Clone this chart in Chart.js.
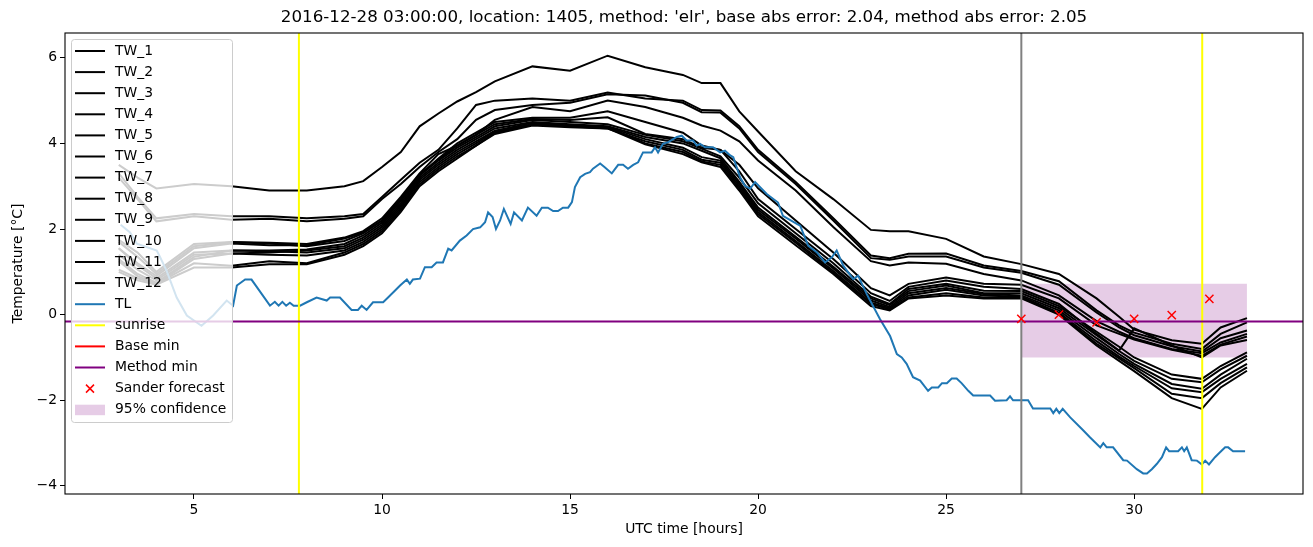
<!DOCTYPE html>
<html>
<head>
<meta charset="utf-8">
<script src="https://cdn.jsdelivr.net/npm/chart.js@4.4.0/dist/chart.umd.min.js"></script>
<style>
  html, body { margin: 0; padding: 0; background: #fff; }
  canvas { display: block; }
</style>
</head>
<body>
<canvas id="chart" width="1313" height="547"></canvas>
<script>
// ---------- Data ----------
const twHours = [3, 3.5, 4, 5, 6, 7, 8, 9, 9.5, 10, 10.5, 11, 11.5, 12, 12.5, 13, 14, 15, 16, 17, 18, 18.5, 19, 19.5, 20,
  21, 22, 23, 23.5, 24, 25, 26, 27, 28, 29, 29.6, 30, 31, 31.8, 32.3, 33];

const tw1 = [3.50, 3.20, 2.95, 3.05, 3.00, 2.90, 2.90, 3.00, 3.12, 3.45, 3.80, 4.40, 4.70, 4.98, 5.20, 5.45, 5.80, 5.70, 6.05, 5.78, 5.60, 5.41, 5.41, 4.75, 4.28,
  3.35, 2.70, 1.98, 1.95, 1.95, 1.77, 1.36, 1.18, 0.95, 0.38, -0.05, -0.35, -0.60, -0.68, -0.30, -0.08];
const tw2 = [3.30, 2.75, 2.25, 2.35, 2.30, 2.30, 2.25, 2.30, 2.35, 2.75, 3.15, 3.55, 3.85, 4.35, 4.90, 5.00, 5.05, 5.00, 5.19, 5.05, 5.00, 4.78, 4.77, 4.40, 3.85,
  3.10, 2.25, 1.38, 1.32, 1.42, 1.43, 1.15, 1.02, 0.78, 0.10, -0.25, -0.42, -0.68, -0.80, -0.45, -0.18];
const tw3 = [3.20, 2.70, 2.18, 2.30, 2.22, 2.24, 2.18, 2.24, 2.30, 2.70, 3.05, 3.45, 3.80, 4.10, 4.55, 4.78, 4.90, 4.95, 5.15, 5.12, 4.95, 4.73, 4.72, 4.35, 3.80,
  3.05, 2.20, 1.32, 1.28, 1.36, 1.36, 1.10, 0.98, 0.70, 0.05, -0.30, -0.48, -0.74, -0.86, -0.55, -0.37];
const tw4 = [1.75, 1.45, 1.00, 1.65, 1.70, 1.68, 1.65, 1.80, 1.95, 2.25, 2.75, 3.30, 3.75, 3.95, 4.20, 4.55, 4.85, 4.75, 5.00, 4.85, 4.60, 4.42, 4.30, 4.05, 3.60,
  2.90, 2.05, 1.25, 1.15, 1.22, 1.19, 0.95, 0.80, 0.45, -0.15, -0.40, -0.55, -0.80, -0.90, -0.65, -0.45];
const tw5 = [1.55, 1.20, 0.90, 1.55, 1.66, 1.62, 1.62, 1.78, 1.92, 2.20, 2.70, 3.25, 3.65, 4.00, 4.25, 4.50, 4.60, 4.60, 4.75, 4.50, 4.25, 3.95, 3.85, 3.50, 2.95,
  2.20, 1.45, 0.62, 0.45, 0.72, 0.87, 0.72, 0.70, 0.38, -0.25, -0.45, -0.58, -0.82, -0.96, -0.70, -0.51];
const tw6 = [1.70, 1.35, 0.95, 1.60, 1.69, 1.66, 1.60, 1.72, 1.90, 2.20, 2.70, 3.28, 3.62, 3.95, 4.20, 4.45, 4.57, 4.55, 4.61, 4.22, 4.10, 3.90, 3.85, 3.35, 2.70,
  2.00, 1.30, 0.50, 0.32, 0.65, 0.80, 0.65, 0.60, 0.25, -0.45, -0.84, -0.32, -0.72, -1.00, -0.72, -0.59];
const tw7 = [1.55, 1.15, 0.85, 1.45, 1.50, 1.50, 1.52, 1.65, 1.85, 2.15, 2.65, 3.25, 3.60, 3.90, 4.15, 4.40, 4.55, 4.50, 4.45, 4.20, 4.05, 3.88, 3.70, 3.20, 2.60,
  1.90, 1.20, 0.42, 0.25, 0.60, 0.72, 0.56, 0.55, 0.20, -0.40, -0.75, -1.00, -1.40, -1.50, -1.20, -0.88];
const tw8 = [1.40, 1.05, 0.80, 1.40, 1.43, 1.45, 1.50, 1.60, 1.80, 2.10, 2.60, 3.20, 3.55, 3.85, 4.10, 4.35, 4.50, 4.45, 4.40, 4.15, 4.00, 3.83, 3.65, 3.10, 2.50,
  1.82, 1.12, 0.38, 0.22, 0.55, 0.68, 0.50, 0.50, 0.15, -0.48, -0.85, -1.08, -1.50, -1.58, -1.28, -0.96];
const tw9 = [1.30, 0.95, 0.75, 1.35, 1.50, 1.48, 1.45, 1.55, 1.75, 2.05, 2.55, 3.15, 3.50, 3.80, 4.05, 4.30, 4.48, 4.42, 4.38, 4.10, 3.90, 3.68, 3.60, 3.05, 2.45,
  1.78, 1.08, 0.33, 0.18, 0.50, 0.62, 0.48, 0.45, 0.10, -0.55, -0.92, -1.15, -1.62, -1.73, -1.40, -1.03];
const tw10 = [1.25, 0.90, 0.72, 1.30, 1.43, 1.40, 1.38, 1.50, 1.70, 2.00, 2.50, 3.10, 3.45, 3.75, 4.00, 4.28, 4.45, 4.40, 4.35, 4.05, 3.85, 3.62, 3.55, 3.00, 2.40,
  1.72, 1.02, 0.28, 0.15, 0.45, 0.58, 0.45, 0.42, 0.05, -0.62, -0.98, -1.20, -1.72, -1.81, -1.50, -1.15];
const tw11 = [1.05, 0.85, 0.72, 1.20, 1.14, 1.25, 1.20, 1.45, 1.65, 1.95, 2.45, 3.05, 3.40, 3.70, 3.95, 4.25, 4.45, 4.40, 4.38, 4.00, 3.80, 3.58, 3.50, 2.95, 2.35,
  1.68, 0.98, 0.25, 0.12, 0.40, 0.50, 0.40, 0.40, 0.02, -0.68, -1.02, -1.25, -1.85, -1.95, -1.60, -1.23];
const tw12 = [1.00, 0.80, 0.70, 1.10, 1.10, 1.18, 1.18, 1.40, 1.60, 1.90, 2.40, 3.00, 3.35, 3.65, 3.95, 4.22, 4.42, 4.38, 4.35, 3.98, 3.75, 3.56, 3.45, 2.90, 2.30,
  1.62, 0.95, 0.20, 0.10, 0.38, 0.45, 0.38, 0.38, 0.00, -0.72, -1.08, -1.32, -1.95, -2.20, -1.70, -1.31];

const twNames = ["TW_1", "TW_2", "TW_3", "TW_4", "TW_5", "TW_6", "TW_7", "TW_8", "TW_9", "TW_10", "TW_11", "TW_12"];
const twValues = [tw1, tw2, tw3, tw4, tw5, tw6, tw7, tw8, tw9, tw10, tw11, tw12];

const tlHours = [3.05, 3.30, 3.48, 4.01, 4.10, 4.27, 4.54, 4.81, 5.20, 5.51, 5.87, 6.04, 6.14, 6.36, 6.53, 7.02, 7.15, 7.25, 7.35, 7.45,
  7.55, 7.65, 7.82, 8.00, 8.26, 8.53, 8.62, 8.88, 9.19, 9.36, 9.46, 9.59, 9.76, 10.03, 10.16, 10.48, 10.66, 10.74, 10.82, 11.01,
  11.14, 11.32, 11.45, 11.62, 11.76, 11.85, 12.07, 12.25, 12.42, 12.61, 12.74, 12.82, 12.94, 13.03, 13.14, 13.24, 13.42, 13.51, 13.72, 13.88,
  14.11, 14.25, 14.41, 14.55, 14.68, 14.81, 14.95, 15.05, 15.13, 15.27, 15.40, 15.53, 15.61, 15.80, 15.93, 16.11, 16.28, 16.41, 16.54, 16.68,
  16.81, 16.94, 17.17, 17.26, 17.34, 17.47, 17.61, 17.84, 17.97, 18.10, 18.27, 18.37, 18.46, 18.59, 18.80, 18.99, 19.12, 19.26, 19.34, 19.52,
  19.65, 19.79, 19.92, 20.23, 20.53, 20.66, 21.03, 21.12, 21.33, 21.56, 21.78, 21.96, 22.09, 22.26, 22.53, 22.66, 22.89, 23.24, 23.51, 23.69,
  23.82, 23.95, 24.12, 24.31, 24.52, 24.62, 24.79, 24.89, 25.02, 25.15, 25.28, 25.41, 25.59, 25.72, 26.17, 26.30, 26.61, 26.70, 26.78, 27.18,
  27.31, 27.77, 27.85, 27.93, 28.01, 28.10, 28.30, 28.61, 28.83, 29.10, 29.18, 29.27, 29.44, 29.71, 29.81, 30.07, 30.24, 30.34, 30.47, 30.60,
  30.74, 30.85, 30.93, 31.17, 31.27, 31.33, 31.40, 31.53, 31.67, 31.80, 31.89, 31.99, 32.15, 32.29, 32.42, 32.50, 32.63, 32.95];
const tlTemp = [2.10, 1.92, 1.66, 1.50, 1.34, 1.03, 0.40, -0.02, -0.26, -0.02, 0.33, 0.21, 0.68, 0.82, 0.82, 0.21, 0.30, 0.21, 0.30, 0.21,
  0.28, 0.21, 0.21, 0.29, 0.40, 0.33, 0.40, 0.40, 0.11, 0.11, 0.21, 0.11, 0.29, 0.29, 0.40, 0.68, 0.82, 0.72, 0.82, 0.84,
  1.11, 1.11, 1.22, 1.22, 1.54, 1.50, 1.73, 1.85, 2.00, 2.04, 2.16, 2.39, 2.28, 2.00, 2.20, 2.47, 2.12, 2.39, 2.20, 2.50,
  2.31, 2.50, 2.50, 2.42, 2.42, 2.50, 2.50, 2.63, 2.98, 3.21, 3.29, 3.33, 3.41, 3.53, 3.44, 3.30, 3.50, 3.50, 3.41, 3.50,
  3.56, 3.79, 3.79, 3.91, 3.79, 3.99, 4.03, 4.15, 4.18, 4.07, 4.07, 3.95, 3.99, 3.91, 3.91, 3.79, 3.83, 3.72, 3.68, 3.21,
  3.01, 2.94, 3.10, 2.82, 2.62, 2.31, 2.12, 2.08, 1.61, 1.46, 1.22, 1.34, 1.50, 1.15, 0.83, 0.91, 0.48, -0.10, -0.50, -0.92,
  -1.00, -1.15, -1.46, -1.54, -1.78, -1.70, -1.70, -1.60, -1.60, -1.49, -1.49, -1.60, -1.78, -1.89, -1.89, -2.01, -2.00, -1.91, -2.00, -2.00,
  -2.19, -2.19, -2.30, -2.20, -2.30, -2.20, -2.40, -2.67, -2.87, -3.10, -3.00, -3.10, -3.10, -3.40, -3.41, -3.61, -3.71, -3.71, -3.61, -3.49,
  -3.33, -3.10, -3.19, -3.19, -3.10, -3.19, -3.10, -3.40, -3.41, -3.50, -3.41, -3.50, -3.33, -3.21, -3.10, -3.10, -3.19, -3.19];

const sunriseHours = [7.79, 31.81];
const forecastHour = 27.0;
const baseMin = -0.16;
const methodMin = -0.16;

const sanderHours = [27, 28, 29, 30, 31, 32];
const sanderTemp = [-0.10, 0.00, -0.18, -0.10, -0.01, 0.37];

const confHours = [27, 33];
const confUpper = [0.72, 0.72];
const confLower = [-1.0, -1.0];

const xTicks = [5, 10, 15, 20, 25, 30];
const yTicks = [-4, -2, 0, 2, 4, 6];
const xRange = [1.57, 34.49];
const yRange = [-4.19, 6.58];

const titleText = "2016-12-28 03:00:00, location: 1405, method: 'elr', base abs error: 2.04, method abs error: 2.05";

// ---------- Styles ----------
const FONT = "'DejaVu Sans', sans-serif";
const tlColor = "#1f77b4";
const bandColor = "rgba(128, 0, 128, 0.2)";
const tickFont = { family: FONT, size: 13.9 };

const pts = (xs, ys) => xs.map((x, i) => ({ x, y: ys[i] }));
const vline = (x) => [{ x, y: yRange[0] }, { x, y: yRange[1] }];
const hline = (y) => [{ x: xRange[0], y }, { x: xRange[1], y }];

function lineSet(label, data, color, order, width) {
  return {
    label, data, order,
    showLine: true, borderColor: color, borderWidth: width === undefined ? 2 : width,
    pointRadius: 0, pointHoverRadius: 0, fill: false, tension: 0,
  };
}

const datasets = [];

// confidence band, lowest layer
datasets.push({ ...lineSet("conf_upper", pts(confHours, confUpper), "rgba(0,0,0,0)", 200, 0), fill: "+1", backgroundColor: bandColor });
datasets.push({ ...lineSet("conf_lower", pts(confHours, confLower), "rgba(0,0,0,0)", 199, 0) });

twNames.forEach((name, i) => {
  datasets.push(lineSet(name, pts(twHours, twValues[i]), "#000000", 150 - i));
});
datasets.push(lineSet("TL", pts(tlHours, tlTemp), tlColor, 100));
sunriseHours.forEach((h, i) => datasets.push(lineSet("sunrise", vline(h), "#ffff00", 90 - i)));
// base min sits exactly under method min; keep it thin so it does not tint the purple line
datasets.push(lineSet("Base min", hline(baseMin), "#ff0000", 80, 1));
datasets.push(lineSet("Method min", hline(methodMin), "#800080", 79, 2.2));
datasets.push(lineSet("forecast", vline(forecastHour), "#808080", 78));
datasets.push({
  label: "Sander forecast", data: pts(sanderHours, sanderTemp), order: 70,
  showLine: false, pointStyle: "crossRot", pointRadius: 5.8, pointHoverRadius: 5.8,
  borderColor: "#ff0000", backgroundColor: "#ff0000", pointBorderWidth: 1.5,
});

// ---------- Legend, frame and title (matplotlib look) ----------
const legendItems = [
  ...twNames.map((n) => ({ label: n, kind: "line", color: "#000000" })),
  { label: "TL", kind: "line", color: tlColor },
  { label: "sunrise", kind: "line", color: "#ffff00" },
  { label: "Base min", kind: "line", color: "#ff0000" },
  { label: "Method min", kind: "line", color: "#800080" },
  { label: "Sander forecast", kind: "cross", color: "#ff0000" },
  { label: "95% confidence", kind: "patch", color: bandColor },
];

const decorPlugin = {
  id: "decor",
  afterDraw(chart) {
    const { ctx, chartArea: a } = chart;
    ctx.save();
    // frame
    ctx.strokeStyle = "#000";
    ctx.lineWidth = 1.1;
    ctx.strokeRect(a.left, a.top, a.right - a.left, a.bottom - a.top);

    // title
    ctx.fillStyle = "#000";
    ctx.font = "16.7px " + FONT;
    ctx.textAlign = "center";
    ctx.textBaseline = "middle";
    ctx.fillText(titleText, (a.left + a.right) / 2, 17.5);

    // legend
    const bx = 71.5, by = 39.5, bw = 161, bh = 383, rowH = 21.1, y0 = 51;
    ctx.beginPath();
    ctx.roundRect(bx, by, bw, bh, 3);
    ctx.fillStyle = "rgba(255,255,255,0.8)";
    ctx.fill();
    ctx.strokeStyle = "#cccccc";
    ctx.lineWidth = 1;
    ctx.stroke();

    ctx.font = "13.9px " + FONT;
    ctx.textAlign = "left";
    legendItems.forEach((it, i) => {
      const y = y0 + i * rowH;
      if (it.kind === "line") {
        ctx.strokeStyle = it.color;
        ctx.lineWidth = 2;
        ctx.beginPath();
        ctx.moveTo(75, y);
        ctx.lineTo(105, y);
        ctx.stroke();
      } else if (it.kind === "cross") {
        ctx.strokeStyle = it.color;
        ctx.lineWidth = 1.5;
        ctx.beginPath();
        ctx.moveTo(86, y - 4); ctx.lineTo(94, y + 4);
        ctx.moveTo(86, y + 4); ctx.lineTo(94, y - 4);
        ctx.stroke();
      } else {
        ctx.fillStyle = it.color;
        ctx.fillRect(75, y - 5, 30, 10.5);
      }
      ctx.fillStyle = "#000";
      ctx.fillText(it.label, 115, y);
    });
    ctx.restore();
  },
};

const minusFmt = (v) => String(v).replace("-", "\u2212");

new Chart(document.getElementById("chart"), {
  type: "scatter",
  data: { datasets },
  options: {
    responsive: false,
    animation: false,
    devicePixelRatio: 1,
    layout: { padding: { left: 0, right: 10, top: 33, bottom: 0 } },
    plugins: {
      legend: { display: false },
      tooltip: { enabled: false },
      title: { display: false },
    },
    scales: {
      x: {
        type: "linear",
        min: xRange[0],
        max: xRange[1],
        afterBuildTicks: (s) => { s.ticks = xTicks.map((v) => ({ value: v })); },
        afterFit: (s) => { s.height = 53; },
        grid: { drawOnChartArea: false, drawTicks: true, tickLength: 5, color: "#000", lineWidth: 1 },
        border: { display: false },
        ticks: { color: "#000", font: tickFont, padding: 3, maxRotation: 0, callback: minusFmt },
        title: { display: true, text: "UTC time [hours]", color: "#000", font: tickFont, padding: { top: 0, bottom: 9.6 } },
      },
      y: {
        type: "linear",
        min: yRange[0],
        max: yRange[1],
        afterBuildTicks: (s) => { s.ticks = yTicks.map((v) => ({ value: v })); },
        afterFit: (s) => { s.width = 65; },
        grid: { drawOnChartArea: false, drawTicks: true, tickLength: 5, color: "#000", lineWidth: 1 },
        border: { display: false },
        ticks: { color: "#000", font: tickFont, padding: 3, callback: minusFmt },
        title: { display: true, text: "Temperature [°C]", color: "#000", font: tickFont, padding: { top: 9.6, bottom: 0 } },
      },
    },
  },
  plugins: [decorPlugin],
});
</script>
</body>
</html>
